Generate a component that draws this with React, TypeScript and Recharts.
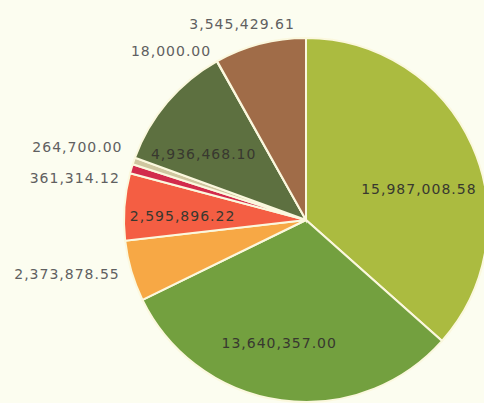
import { Cell, Pie, PieChart } from "recharts";

const names = [
  "A", "B", "C", "D", "E", "F", "G", "H", "I",
];
const amounts = [
  15987008.58, 13640357.0, 2373878.55, 2595896.22, 361314.12, 264700.0, 4936468.1, 18000.0, 3545429.61,
];
const colors = [
  "#abbb40", "#73a03f", "#f7a845", "#f45e43", "#d22b4c", "#cfc6a0", "#5d7040", "#e8e0c0", "#a06c48",
];
// which labels sit outside the pie
const outside = [false, false, true, false, true, true, false, true, true];

const data = names.map((name, i) => ({ name, value: amounts[i] }));

const RADIAN = Math.PI / 180;
const fmt = (v: number) =>
  v.toLocaleString("en-US", { minimumFractionDigits: 2, maximumFractionDigits: 2 });

// small hand nudges so labels land like the original
const nudge: Record<number, [number, number]> = {
  0: [0, 20],
  1: [-10, 0],
  3: [0, 5],
  4: [0, 13],
  5: [0, -10],
  6: [-8, 14],
  8: [-12, 3],
};

function renderLabel(props: any) {
  const { cx, cy, midAngle, outerRadius, index, value } = props;
  const out = outside[index];
  let r = out ? outerRadius + 12 : outerRadius * 0.68;
  if (index === 8) r = outerRadius + 24;
  const cos = Math.cos(-midAngle * RADIAN);
  const sin = Math.sin(-midAngle * RADIAN);
  const [dx, dy] = nudge[index] ?? [0, 0];
  const x = cx + r * cos + dx;
  const y = cy + r * sin + dy;
  let anchor = "middle";
  if (out && index !== 8) anchor = cos < 0 ? "end" : "start";
  return (
    <text
      x={x}
      y={y}
      textAnchor={anchor}
      dominantBaseline="central"
      fill={out ? "#606060" : "#38382f"}
      fontSize={14}
      fontFamily="DejaVu Sans, Verdana, sans-serif"
      letterSpacing={1}
    >
      {fmt(value)}
    </text>
  );
}

export default function App() {
  return (
    <div style={{ position: "fixed", left: 0, top: 0, width: 484, height: 403, background: "#fcfdf0" }}>
      <PieChart width={484} height={403} margin={{ top: 0, right: 0, bottom: 0, left: 0 }}>
        <Pie
          data={data}
          dataKey="value"
          nameKey="name"
          cx={306}
          cy={220}
          outerRadius={182}
          startAngle={90}
          endAngle={-270}
          stroke="#fbf8de"
          strokeWidth={2}
          label={renderLabel}
          labelLine={false}
          isAnimationActive={false}
        >
          {data.map((d, i) => (
            <Cell key={d.name} fill={colors[i]} />
          ))}
        </Pie>
      </PieChart>
    </div>
  );
}
